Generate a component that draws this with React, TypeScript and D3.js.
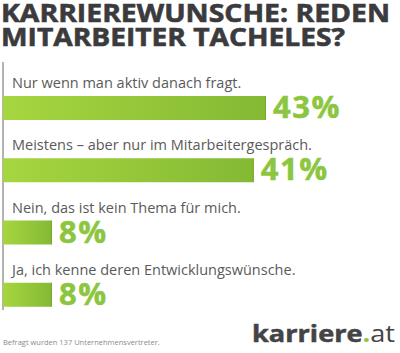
import * as d3 from "d3";

// Survey answers and shares (percent)
const categories = [
  "Nur wenn man aktiv danach fragt.",
  "Meistens – aber nur im Mitarbeitergespräch.",
  "Nein, das ist kein Thema für mich.",
  "Ja, ich kenne deren Entwicklungswünsche.",
];
const values = [43, 41, 8, 8];
const titleLines = ["KARRIEREWUNSCHE: REDEN", "MITARBEITER TACHELES?"];
const footnote = "Befragt wurden 137 Unternehmensvertreter.";

const WIDTH = 400;
const HEIGHT = 353;
const FONT = "'Open Sans', sans-serif";
const TITLE_FILL = "#3b3b3d";
const LABEL_FILL = "#5a5a5a";
const GREEN = "#8cc63f";
const AXIS_X = 3;

export default function App() {
  const x = d3.scaleLinear().domain([0, 43]).range([0, 263]);
  const y = d3
    .scaleBand<string>()
    .domain(categories)
    .range([64, 313])
    .paddingInner(0)
    .paddingOuter(0);

  return (
    <svg
      width={WIDTH}
      height={HEIGHT}
      style={{ position: "absolute", left: 0, top: 0, background: "#fff" }}
    >
      <defs>
        <linearGradient id="barGrad" x1="0" x2="1" y1="0" y2="0">
          <stop offset="0%" stopColor="#a6d63f" />
          <stop offset="100%" stopColor="#84b934" />
        </linearGradient>
      </defs>

      {/* title */}
      {titleLines.map((t, i) => (
        <text
          key={t}
          x={1}
          y={22 + i * 23.5}
          fontFamily={FONT}
          fontWeight={700}
          fontSize={25}
          fill={TITLE_FILL}
          stroke={TITLE_FILL}
          strokeWidth={0.6}
          textLength={i === 0 ? 389 : 344}
          lengthAdjust="spacingAndGlyphs"
        >
          {t}
        </text>
      ))}

      {/* axis line */}
      <line x1={AXIS_X} x2={AXIS_X} y1={62} y2={310} stroke="#9a9a9a" strokeWidth={1.5} />

      {categories.map((c, i) => {
        const y0 = y(c) ?? 0;
        const w = x(values[i]);
        return (
          <g key={c}>
            <text
              x={12}
              y={y0 + 24}
              fontFamily={FONT}
              fontSize={14.5}
              fill={LABEL_FILL}
            >
              {c}
            </text>
            <rect
              x={AXIS_X}
              y={y0 + 32}
              width={w}
              height={24}
              fill="url(#barGrad)"
            />
            <rect x={AXIS_X + w - 1} y={y0 + 32} width={1} height={24} fill="#7aa82f" />
            <text
              x={AXIS_X + w + 7}
              y={y0 + 54}
              fontFamily={FONT}
              fontWeight={700}
              fontSize={31}
              fill={GREEN}
              stroke={GREEN}
              strokeWidth={0.5}
              letterSpacing={1.5}
            >
              {values[i]}%
            </text>
          </g>
        );
      })}

      {/* footnote */}
      <text x={3} y={345} fontFamily={FONT} fontSize={7.5} fill="#8a8a8a">
        {footnote}
      </text>

      {/* logo */}
      <text
        x={252}
        y={342}
        fontFamily={FONT}
        fontSize={23}
        fill="#444446"
        textLength={143}
        lengthAdjust="spacingAndGlyphs"
      >
        <tspan fontWeight={700} stroke="#444446" strokeWidth={0.5}>karriere</tspan>
        <tspan fontWeight={700} fill={GREEN}>.</tspan>
        <tspan fontWeight={400}>at</tspan>
      </text>
    </svg>
  );
}
